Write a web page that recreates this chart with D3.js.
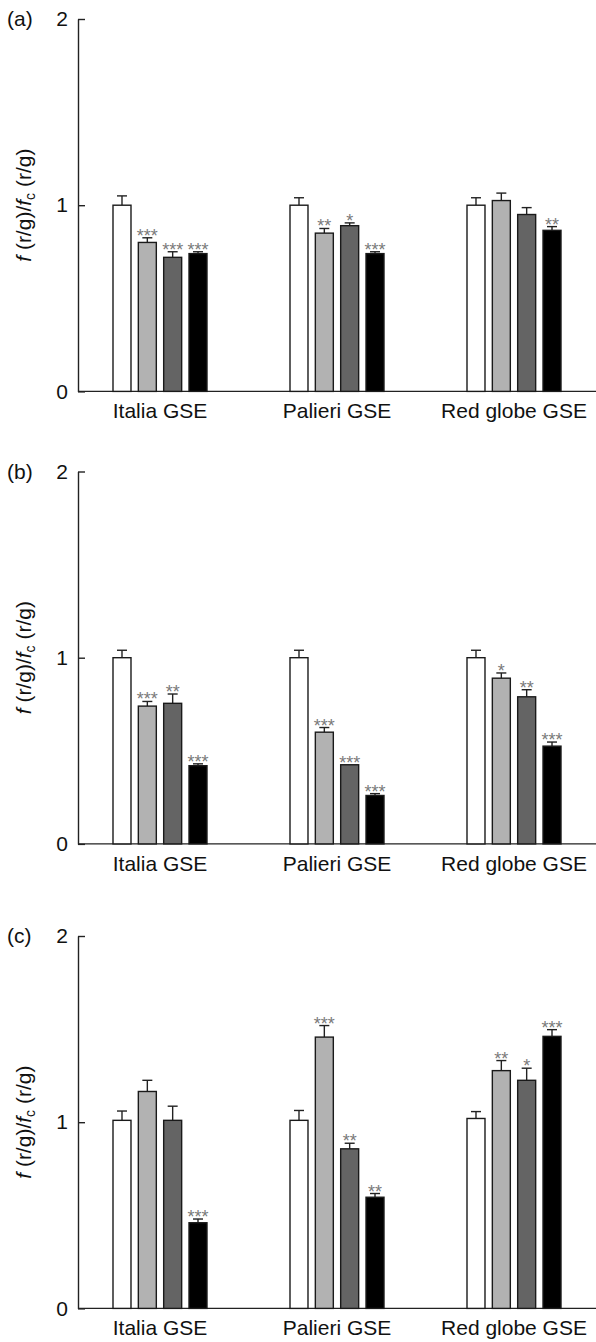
<!DOCTYPE html>
<html>
<head>
<meta charset="utf-8">
<script src="https://cdn.jsdelivr.net/npm/d3@7"></script>
<style>
body{margin:0;background:#fff;}
text{font-family:"Liberation Sans",Arial,Helvetica,sans-serif;}
</style>
</head>
<body>
<svg id="chart" width="596" height="1342"></svg>
<script>
var categories = ["Italia GSE", "Palieri GSE", "Red globe GSE"];
var series = ["s1", "s2", "s3", "s4"];
var panelLabels = ["(a)", "(b)", "(c)"];
var yTicks = [0, 1, 2];

// panel (a)
var valuesA = [[1.00, 0.80, 0.72, 0.74], [1.00, 0.85, 0.89, 0.74], [1.00, 1.025, 0.95, 0.865]];
var errorsA = [[0.05, 0.025, 0.03, 0.01], [0.04, 0.025, 0.015, 0.01], [0.04, 0.04, 0.037, 0.02]];
var starsA = [["", "***", "***", "***"], ["", "**", "*", "***"], ["", "", "", "**"]];

// panel (b)
var valuesB = [[1.00, 0.74, 0.755, 0.42], [1.00, 0.60, 0.425, 0.26], [1.00, 0.89, 0.79, 0.525]];
var errorsB = [[0.04, 0.025, 0.05, 0.01], [0.04, 0.025, 0.0, 0.01], [0.04, 0.028, 0.038, 0.022]];
var starsB = [["", "***", "**", "***"], ["", "***", "***", "***"], ["", "*", "**", "***"]];

// panel (c)
var valuesC = [[1.01, 1.165, 1.01, 0.46], [1.01, 1.457, 0.857, 0.597], [1.02, 1.277, 1.225, 1.461]];
var errorsC = [[0.05, 0.06, 0.076, 0.02], [0.053, 0.062, 0.03, 0.02], [0.037, 0.054, 0.065, 0.036]];
var starsC = [["", "", "", "***"], ["", "***", "**", "**"], ["", "**", "*", "***"]];

var panels = [
  {label: panelLabels[0], values: valuesA, errors: errorsA, stars: starsA},
  {label: panelLabels[1], values: valuesB, errors: errorsB, stars: starsB},
  {label: panelLabels[2], values: valuesC, errors: errorsC, stars: starsC}
];

var svg = d3.select("#chart");
var W = 596, axisX = 78, unit = 186.2;
var panelTop = [19, 471.5, 936];

var x0 = d3.scalePoint().domain(categories).range([160, 514]);
var x1 = d3.scaleBand().domain(series).range([-47, 47]).paddingInner(0.29);
var color = d3.scaleOrdinal().domain(series).range(["#ffffff", "#b2b2b2", "#646464", "#000000"]);

panels.forEach(function(p, i) {
  var top = panelTop[i];
  var y = d3.scaleLinear().domain([0, 2]).range([top + 2 * unit, top]);
  var g = svg.append("g");

  // y axis, ticks pointing inwards
  var ax = g.append("g")
      .attr("transform", "translate(" + axisX + ",0)")
      .call(d3.axisLeft(y).tickValues(yTicks).tickFormat(d3.format("d"))
        .tickSizeInner(-7).tickSizeOuter(0).tickPadding(10));
  ax.attr("font-family", null).attr("font-size", null);
  ax.selectAll("path, line").attr("stroke", "#222").attr("stroke-width", 1.4);
  ax.selectAll("text").attr("font-size", 21).attr("fill", "#111");

  // baseline across the panel
  g.append("line")
      .attr("x1", axisX).attr("x2", W)
      .attr("y1", y(0)).attr("y2", y(0))
      .attr("stroke", "#222").attr("stroke-width", 1.4);

  g.append("text")
      .attr("x", 7).attr("y", top + 7)
      .attr("font-size", 21).attr("fill", "#111")
      .text(p.label);

  var title = g.append("text")
      .attr("transform", "translate(31," + y(1) + ") rotate(-90)")
      .attr("text-anchor", "middle")
      .attr("font-size", 21).attr("fill", "#111");
  title.append("tspan").attr("font-style", "italic").text("f");
  title.append("tspan").text(" (r/g)/");
  title.append("tspan").attr("font-style", "italic").text("f");
  title.append("tspan").attr("font-size", 14).attr("dy", 4).text("c");
  title.append("tspan").attr("dy", -4).text(" (r/g)");

  categories.forEach(function(cat, ci) {
    var grp = g.append("g");
    series.forEach(function(s, si) {
      var v = p.values[ci][si], e = p.errors[ci][si];
      var bx = x0(cat) + x1(s), cx = bx + x1.bandwidth() / 2;

      if (e > 0) {
        grp.append("line")
            .attr("x1", cx).attr("x2", cx)
            .attr("y1", y(v)).attr("y2", y(v + e))
            .attr("stroke", "#222").attr("stroke-width", 1.4);
        grp.append("line")
            .attr("x1", cx - 5).attr("x2", cx + 5)
            .attr("y1", y(v + e)).attr("y2", y(v + e))
            .attr("stroke", "#222").attr("stroke-width", 1.4);
      }

      grp.append("rect")
          .attr("x", bx).attr("y", y(v))
          .attr("width", x1.bandwidth()).attr("height", y(0) - y(v))
          .attr("fill", color(s))
          .attr("stroke", "#1a1a1a").attr("stroke-width", 1.4);

      if (p.stars[ci][si]) {
        grp.append("text")
            .attr("x", cx).attr("y", y(v + e) + 4)
            .attr("text-anchor", "middle")
            .attr("font-size", 18)
            .attr("fill", "#7a7a7a")
            .text(p.stars[ci][si]);
      }
    });

    g.append("text")
        .attr("x", x0(cat)).attr("y", y(0) + 27)
        .attr("text-anchor", "middle")
        .attr("font-size", 21).attr("fill", "#111")
        .text(cat);
  });
});
</script>
</body>
</html>
